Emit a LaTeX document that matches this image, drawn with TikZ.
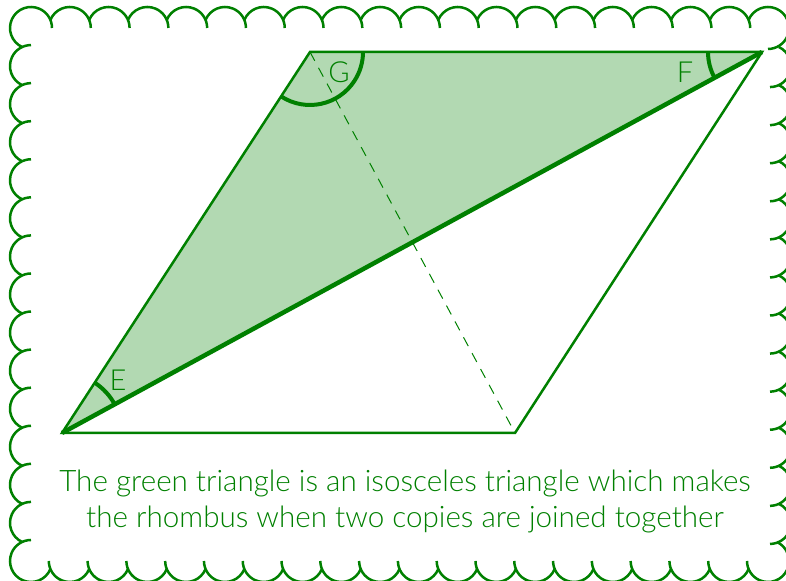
\documentclass[tikz,border=0pt]{standalone}
\usepackage{fontspec}
\setmainfont{Lato Light}
\usetikzlibrary{angles}
\colorlet{rhgreen}{green!50!black}

\begin{document}
\begin{tikzpicture}[x=0.5pt, y=0.5pt,
  every node/.style={text=rhgreen, font=\fontsize{14.5}{16}\selectfont},
  edge/.style={rhgreen, line width=1.25pt},
  scallop/.style={rhgreen, line width=1.25pt},
  anglemark/.style={draw=rhgreen, line width=2pt}]
  \useasboundingbox (0,0) rectangle (786,581);
  % scalloped frame
  \foreach \m in {1,...,18} {
    \draw[scallop] ({31+\m*38.789},553) ++(157.4:10.5pt) arc (157.4:0:10.5pt);
    \draw[scallop] ({768-\m*38.789},20) ++(-22.6:10.5pt) arc (-22.6:-180:10.5pt);
  }
  \foreach \m in {1,...,13} {
    \draw[scallop] (770,{553-\m*38.071}) ++(65.05:10.5pt) arc (65.05:-90:10.5pt);
    \draw[scallop] (31,{20+\m*38.071}) ++(-114.95:10.5pt) arc (-114.95:-270:10.5pt);
  }
  \draw[scallop] (31,553) ++(245.05:10.5pt) arc (245.05:0:10.5pt);
  \draw[scallop] (768,553) ++(157.4:10.5pt) arc (157.4:-90:10.5pt);
  \draw[scallop] (768,20) ++(65.05:10.5pt) arc (65.05:-180:10.5pt);
  \draw[scallop] (31,20) ++(-22.6:10.5pt) arc (-22.6:-270:10.5pt);
  % rhombus corners
  \coordinate (E) at (62,148);
  \coordinate (B) at (515,148);
  \coordinate (F) at (762,529);
  \coordinate (G) at (310,529);
  % green triangle
  \fill[rhgreen!30] (E) -- (G) -- (F) -- cycle;
  \draw[rhgreen, line width=0.5pt, dash pattern=on 5pt off 4pt] (G) -- (B);
  \draw[edge] (E) -- (B) -- (F) -- (G) -- cycle;
  \draw[rhgreen, line width=2.25pt] (E) -- (F);
  % angle marks
  \pic[anglemark, angle radius=30pt] {angle=F--E--G};
  \pic[anglemark, angle radius=26.5pt] {angle=E--G--F};
  \pic[anglemark, angle radius=27pt] {angle=G--F--E};
  \node (labE) at (118,201) {E};
  \node (labG) at (339,509) {G};
  \node (labF) at (685,509) {F};
  % caption
  \node[align=center, font=\fontsize{14.8}{18}\selectfont] (caption) at (405,80)
    {The green triangle is an isosceles triangle which makes\\
     the rhombus when two copies are joined together};
\end{tikzpicture}
\end{document}
